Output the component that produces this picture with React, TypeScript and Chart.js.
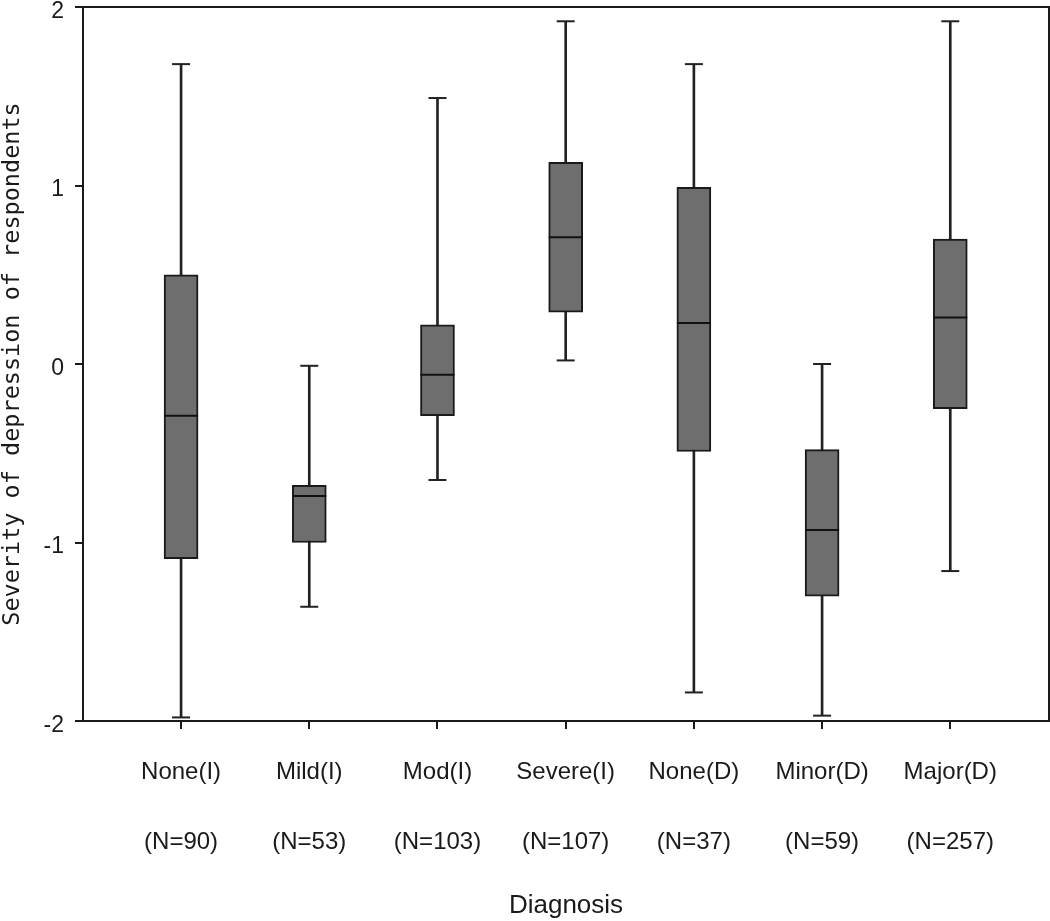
import React, { useEffect, useRef } from 'react';
import { Chart, registerables } from 'chart.js';

Chart.register(...registerables);

const categories = ['None(I)', 'Mild(I)', 'Mod(I)', 'Severe(I)', 'None(D)', 'Minor(D)', 'Major(D)'];
const sampleSizes = ['(N=90)', '(N=53)', '(N=103)', '(N=107)', '(N=37)', '(N=59)', '(N=257)'];
const whiskerMin = [-1.98, -1.36, -0.65, 0.02, -1.84, -1.97, -1.16];
const q1 = [-1.09, -1.0, -0.29, 0.29, -0.49, -1.3, -0.25];
const median = [-0.29, -0.74, -0.06, 0.71, 0.23, -0.93, 0.26];
const q3 = [0.5, -0.68, 0.22, 1.13, 0.99, -0.48, 0.7];
const whiskerMax = [1.68, -0.01, 1.49, 1.92, 1.68, 0.0, 1.92];
const yTicks = [-2, -1, 0, 1, 2];

const INK = '#1a1a1a';
const FONT = 'Liberation Sans';

const noPadding = () => ({ left: 0, top: 0, right: 0, bottom: 0 });

export default function App() {
  const ref = useRef<HTMLCanvasElement>(null);

  useEffect(() => {
    const canvas = ref.current;
    if (!canvas) return;
    const xs = categories.map((_, i) => i);

    const frame = {
      id: 'frame',
      afterDatasetsDraw(chart: any) {
        const { ctx, chartArea } = chart;
        const { left, top, right, bottom } = chartArea;
        ctx.save();
        ctx.strokeStyle = INK;
        ctx.lineWidth = 2;
        ctx.strokeRect(left, top, right - left, bottom - top);
        ctx.restore();
      },
    };

    const chart = new Chart(canvas, {
      type: 'bar',
      data: {
        datasets: [
          {
            type: 'bar',
            label: 'whisker',
            data: xs.map((i) => ({ x: i, y: [whiskerMin[i], whiskerMax[i]] })) as any,
            backgroundColor: '#222222',
            borderWidth: 0,
            barThickness: 2,
            grouped: false,
            order: 3,
          } as any,
          {
            type: 'bar',
            label: 'box',
            data: xs.map((i) => ({ x: i, y: [q1[i], q3[i]] })) as any,
            backgroundColor: '#6e6e6e',
            borderColor: INK,
            borderWidth: 2,
            borderSkipped: false,
            barThickness: 34,
            grouped: false,
            order: 2,
          } as any,
          {
            type: 'scatter',
            label: 'median',
            data: xs.map((i) => ({ x: i, y: median[i] })),
            pointStyle: 'line',
            pointRadius: 17,
            pointHoverRadius: 17,
            borderColor: '#111111',
            borderWidth: 2,
            order: 1,
          } as any,
          {
            type: 'scatter',
            label: 'caps',
            data: [
              ...xs.map((i) => ({ x: i, y: whiskerMin[i] })),
              ...xs.map((i) => ({ x: i, y: whiskerMax[i] })),
            ],
            pointStyle: 'line',
            pointRadius: 9,
            pointHoverRadius: 9,
            borderColor: '#222222',
            borderWidth: 2,
            order: 1,
          } as any,
        ],
      },
      options: {
        responsive: false,
        animation: false,
        layout: { autoPadding: false, padding: { top: 7, right: 1, left: 0, bottom: 0 } },
        plugins: {
          legend: { display: false },
          tooltip: { enabled: false },
        },
        scales: {
          x: {
            type: 'linear',
            min: -0.765,
            max: 6.77,
            offset: false,
            grid: {
              display: true,
              offset: false,
              drawOnChartArea: false,
              drawTicks: true,
              tickLength: 8,
              color: INK,
              lineWidth: 2,
            },
            border: { display: true, color: INK, width: 2 },
            afterBuildTicks: (scale: any) => {
              scale.ticks = xs.map((v) => ({ value: v }));
            },
            afterFit: (scale: any) => {
              scale.height = 200;
              scale.paddingLeft = 0;
              scale.paddingRight = 0;
              scale.paddingTop = 0;
              scale.paddingBottom = 0;
              scale.getPadding = noPadding;
            },
            ticks: {
              autoSkip: false,
              maxRotation: 0,
              minRotation: 0,
              padding: 9,
              color: INK,
              font: { family: FONT, size: 24, lineHeight: 2.9 },
              callback: (v: any) => {
                const i = Number(v);
                return Number.isInteger(i) && i >= 0 && i < categories.length
                  ? [categories[i], sampleSizes[i]]
                  : '';
              },
            },
            title: {
              display: true,
              text: 'Diagnosis',
              color: INK,
              font: { family: FONT, size: 26, lineHeight: 1.2 },
              padding: { top: 0, bottom: 0 },
            },
          } as any,
          y: {
            type: 'linear',
            min: -2,
            max: 2,
            grid: {
              display: true,
              drawOnChartArea: false,
              drawTicks: true,
              tickLength: 8,
              color: INK,
              lineWidth: 2,
            },
            border: { display: true, color: INK, width: 2 },
            afterBuildTicks: (scale: any) => {
              scale.ticks = yTicks.map((v) => ({ value: v }));
            },
            afterFit: (scale: any) => {
              scale.width = 83;
              scale.paddingLeft = 0;
              scale.paddingRight = 0;
              scale.paddingTop = 0;
              scale.paddingBottom = 0;
              scale.getPadding = noPadding;
            },
            ticks: {
              padding: 11,
              color: INK,
              font: { family: FONT, size: 23, lineHeight: 0.4 },
              // empty first line nudges the number slightly below its tick, as in the reference
              callback: (v: any) => ['', String(v)],
            },
            title: {
              display: true,
              text: 'Severity of depression of respondents',
              color: INK,
              font: { family: 'DejaVu Sans Mono', size: 23.5, lineHeight: 1 },
              padding: { top: 1, bottom: 0 },
            },
          } as any,
        },
      },
      plugins: [frame],
    });

    return () => chart.destroy();
  }, []);

  return (
    <div style={{ position: 'absolute', left: 0, top: 0, width: 1050, height: 921, background: '#fff' }}>
      <canvas ref={ref} width={1050} height={921} style={{ display: 'block' }} />
    </div>
  );
}
